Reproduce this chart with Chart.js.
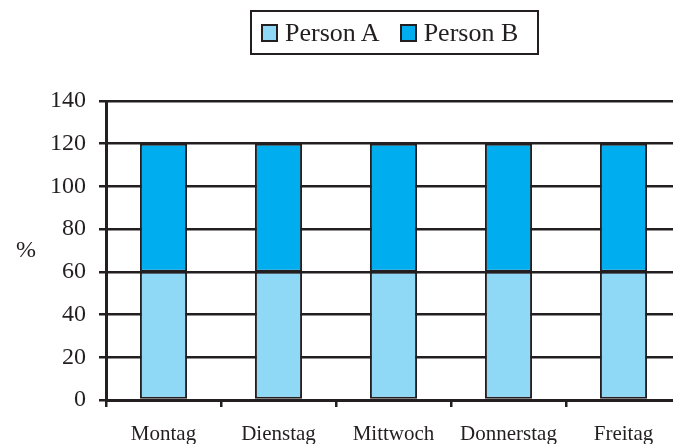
<!DOCTYPE html>
<html>
<head>
<meta charset="utf-8">
<script src="https://cdn.jsdelivr.net/npm/chart.js@4"></script>
<style>
  html, body { margin: 0; padding: 0; background: #fff; overflow: hidden; }
  #wrap { position: relative; width: 690px; height: 444px; }
  #legend {
    position: absolute; left: 250px; top: 10px; width: 276px; height: 41px;
    border: 2px solid #231f20; box-sizing: content-box;
    font-family: 'Liberation Serif', serif; font-size: 26px; color: #231f20;
    display: flex; align-items: center; padding-left: 9px; white-space: nowrap;
  }
  #legend .item { display: flex; align-items: center; margin-right: 20px; }
  #legend .sw { width: 13px; height: 14px; border: 2px solid #231f20; margin-right: 7px; }
</style>
</head>
<body>
<div id="wrap">
  <canvas id="barchart" width="690" height="444"></canvas>
  <div id="legend"></div>
</div>
<script>
// data
var days = ['Montag', 'Dienstag', 'Mittwoch', 'Donnerstag', 'Freitag'];
var personA = [60, 60, 60, 60, 60];
var personB = [60, 60, 60, 60, 60];
var seriesNames = ['Person A', 'Person B'];
var yTitle = '%';

(function() {
  var serif = "'Liberation Serif', 'Times New Roman', serif";
  var ink = '#231f20';

  // the "%" label sits upright left of the axis
  var yLabel = {
    id: 'yLabel',
    afterDraw: function(chart) {
      var c = chart.ctx, area = chart.chartArea;
      c.save();
      c.font = '24px ' + serif;
      c.fillStyle = ink;
      c.textAlign = 'center';
      c.textBaseline = 'middle';
      c.fillText(yTitle, 26, (area.top + area.bottom) / 2);
      c.restore();
    }
  };

  var ctx = document.getElementById('barchart').getContext('2d');
  var chart = new Chart(ctx, {
    type: 'bar',
    data: {
      labels: days,
      datasets: [{
        label: seriesNames[0],
        data: personA,
        backgroundColor: '#8fd8f6',
        borderColor: ink,
        borderWidth: 2,
        borderSkipped: false
      }, {
        label: seriesNames[1],
        data: personB,
        backgroundColor: '#00aeef',
        borderColor: ink,
        borderWidth: 2,
        borderSkipped: false
      }]
    },
    options: {
      responsive: false,
      animation: false,
      layout: { padding: { top: 101, right: 9, left: 0, bottom: 0 } },
      datasets: { bar: { barPercentage: 0.41, categoryPercentage: 1 } },
      scales: {
        x: {
          stacked: true,
          grid: { drawOnChartArea: false, color: ink, lineWidth: 2.5, tickLength: 7, offset: true },
          border: { color: ink, width: 3 },
          ticks: { color: ink, font: { family: serif, size: 21 }, padding: 15, maxRotation: 0 },
          afterFit: function(s) { s.height = 44; }
        },
        y: {
          stacked: true,
          min: 0, max: 140,
          ticks: { stepSize: 20, color: ink, font: { family: serif, size: 24 }, padding: 13 },
          grid: { color: ink, lineWidth: 2.5, tickLength: 7 },
          border: { color: ink, width: 3 },
          afterFit: function(s) { s.width = 106; }
        }
      },
      plugins: {
        legend: { display: false },
        tooltip: { enabled: false }
      }
    },
    plugins: [yLabel]
  });

  // html legend built from the datasets
  var lg = document.getElementById('legend');
  chart.data.datasets.forEach(function(ds) {
    var item = document.createElement('span');
    item.className = 'item';
    var sw = document.createElement('span');
    sw.className = 'sw';
    sw.style.background = ds.backgroundColor;
    item.appendChild(sw);
    item.appendChild(document.createTextNode(ds.label));
    lg.appendChild(item);
  });
})();
</script>
</body>
</html>
